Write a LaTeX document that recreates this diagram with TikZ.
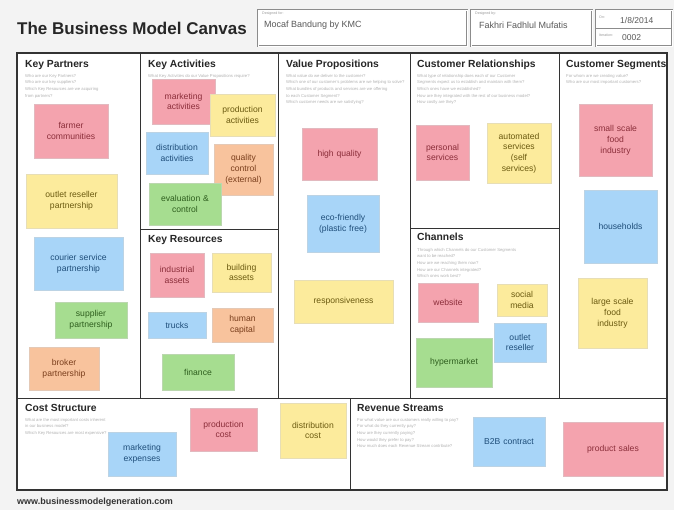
\documentclass[tikz,border=0pt]{standalone}
\usepackage{fontspec}
\setmainfont{Liberation Sans}
\usetikzlibrary{positioning}
\definecolor{pinkc}{HTML}{F4A3AE}
\definecolor{pinkt}{HTML}{8B2E3A}
\definecolor{yellowc}{HTML}{FCEB9C}
\definecolor{yellowt}{HTML}{6B5A10}
\definecolor{bluec}{HTML}{A8D5F8}
\definecolor{bluet}{HTML}{1F4E7A}
\definecolor{greenc}{HTML}{A6DD90}
\definecolor{greent}{HTML}{2E5E1E}
\definecolor{orangec}{HTML}{F8C39D}
\definecolor{oranget}{HTML}{7A3E1C}
\definecolor{framec}{HTML}{333333}
\definecolor{bgc}{HTML}{F3F3F3}
\tikzset{
  sticky/.style={fill=#1c, text=#1t, inner sep=2pt, align=center,
    font=\fontsize{8.6}{10.8}\selectfont, draw=#1c!85!black!60, line width=0.3pt},
  heading/.style={anchor=north west, font=\bfseries\fontsize{10.3}{12}\selectfont, inner sep=0pt, text=black!85},
  prompt/.style={anchor=north west, font=\fontsize{4.2}{6.6}\selectfont, inner sep=0pt, text=black!30, align=left},
  hdrbox/.style={draw=black!45, line width=0.6pt, double=white, double distance=0.8pt},
  hdrlabel/.style={anchor=north west, font=\fontsize{3.6}{4}\selectfont, inner sep=0pt, text=black!40},
  hdrtext/.style={anchor=west, font=\fontsize{9}{10}\selectfont, inner sep=0pt, text=black!65},
  canvasline/.style={draw=framec, line width=1pt},
}
% #1 name, #2 colour, #3 x1, #4 y1, #5 x2, #6 y2, #7 text
\newcommand\stickynote[7]{%
  \node[sticky=#2, text width={(#5-#3)*1pt-4pt}, minimum height={(#6-#4)*1pt}]
    (#1) at ({(#3+#5)/2},{(#4+#6)/2}) {#7};}
\begin{document}
\begin{tikzpicture}[x=1pt,y=-1pt]
\useasboundingbox (0,0) rectangle (674,510);
\fill[bgc] (0,0) rectangle (674,510);
% title
\node[anchor=west, font=\bfseries\fontsize{17}{19}\selectfont, inner sep=0pt, text=black!85] (title) at (17,28) {The Business Model Canvas};
% header boxes
\draw[hdrbox, fill=white] (258,10) rectangle (467,46);
\node[hdrlabel] (lfor) at (262,12) {Designed for:};
\node[hdrtext] (dfor) at (264,25) {Mocaf Bandung by KMC};
\draw[hdrbox, fill=white] (471,10) rectangle (592,46);
\node[hdrlabel] (lby) at (475,12) {Designed by:};
\node[hdrtext] (dby) at (479,25) {Fakhri Fadhlul Mufatis};
\draw[hdrbox, fill=white] (596,10) rectangle (672,46);
\draw[black!45, line width=0.6pt] (596,28) -- (672,28);
\node[hdrlabel] (lon) at (599,16) {On:};
\node[hdrtext, font=\fontsize{8.5}{9}\selectfont] (don) at (620,20) {1/8/2014};
\node[hdrlabel] (lit) at (599,34) {Iteration:};
\node[hdrtext, font=\fontsize{8.5}{9}\selectfont] (dit) at (622,38) {0002};
% canvas
\fill[white] (17,53) rectangle (667,490);
\draw[canvasline, line width=1.6pt] (17,53) rectangle (667,490);
\draw[canvasline] (17,398) -- (667,398);
\draw[canvasline] (140,53) -- (140,398);
\draw[canvasline] (278,53) -- (278,398);
\draw[canvasline] (410,53) -- (410,398);
\draw[canvasline] (559,53) -- (559,398);
\draw[canvasline] (140,230) -- (278,230);
\draw[canvasline] (410,229) -- (559,229);
\draw[canvasline] (350,398) -- (350,490);
% headings
\node[heading] (hkp) at (25,60) {Key Partners};
\node[heading] (hka) at (148,60) {Key Activities};
\node[heading] (hvp) at (286,60) {Value Propositions};
\node[heading] (hcr) at (417,60) {Customer Relationships};
\node[heading] (hcs) at (566,60) {Customer Segments};
\node[heading] (hkr) at (148,235) {Key Resources};
\node[heading] (hch) at (417,233) {Channels};
\node[heading] (hco) at (25,404) {Cost Structure};
\node[heading] (hrs) at (357,404) {Revenue Streams};
% prompts
\node[prompt] (pkp) at (25,74) {Who are our Key Partners?\\Who are our key suppliers?\\Which Key Resources are we acquiring\\from partners?};
\node[prompt] (pka) at (148,74) {What Key Activities do our Value Propositions require?};
\node[prompt] (pvp) at (286,74) {What value do we deliver to the customer?\\Which one of our customer's problems are we helping to solve?\\What bundles of products and services are we offering\\to each Customer Segment?\\Which customer needs are we satisfying?};
\node[prompt] (pcr) at (417,74) {What type of relationship does each of our Customer\\Segments expect us to establish and maintain with them?\\Which ones have we established?\\How are they integrated with the rest of our business model?\\How costly are they?};
\node[prompt] (pcs) at (566,74) {For whom are we creating value?\\Who are our most important customers?};
\node[prompt] (pch) at (417,248) {Through which Channels do our Customer Segments\\want to be reached?\\How are we reaching them now?\\How are our Channels integrated?\\Which ones work best?};
\node[prompt] (pco) at (25,418) {What are the most important costs inherent\\in our business model?\\Which Key Resources are most expensive?};
\node[prompt] (prs) at (357,418) {For what value are our customers really willing to pay?\\For what do they currently pay?\\How are they currently paying?\\How would they prefer to pay?\\How much does each Revenue Stream contribute?};
% Key Partners
\stickynote{kp1}{pink}{34}{104}{108}{158}{farmer\\communities}
\stickynote{kp2}{yellow}{26}{174}{117}{228}{outlet reseller\\partnership}
\stickynote{kp3}{blue}{34}{237}{123}{290}{courier service\\partnership}
\stickynote{kp4}{green}{55}{302}{127}{338}{supplier\\partnership}
\stickynote{kp5}{orange}{29}{347}{99}{390}{broker\\partnership}
% Key Activities
\stickynote{ka1}{pink}{152}{79}{215}{124}{marketing\\activities}
\stickynote{ka2}{yellow}{210}{94}{275}{136}{production\\activities}
\stickynote{ka3}{blue}{146}{132}{208}{174}{distribution\\activities}
\stickynote{ka4}{orange}{214}{144}{273}{195}{quality\\control\\(external)}
\stickynote{ka5}{green}{149}{183}{221}{225}{evaluation \&\\control}
% Key Resources
\stickynote{kr1}{pink}{150}{253}{204}{297}{industrial\\assets}
\stickynote{kr2}{yellow}{212}{253}{271}{292}{building\\assets}
\stickynote{kr3}{blue}{148}{312}{206}{338}{trucks}
\stickynote{kr4}{orange}{212}{308}{273}{342}{human\\capital}
\stickynote{kr5}{green}{162}{354}{234}{390}{finance}
% Value Propositions
\stickynote{vp1}{pink}{302}{128}{377}{180}{high quality}
\stickynote{vp2}{blue}{307}{195}{379}{252}{eco-friendly\\(plastic free)}
\stickynote{vp3}{yellow}{294}{280}{393}{323}{responsiveness}
% Customer Relationships
\stickynote{cr1}{pink}{416}{125}{469}{180}{personal\\services}
\stickynote{cr2}{yellow}{487}{123}{551}{183}{automated\\services\\(self\\services)}
% Channels
\stickynote{ch1}{pink}{418}{283}{478}{322}{website}
\stickynote{ch2}{yellow}{497}{284}{547}{316}{social\\media}
\stickynote{ch3}{blue}{494}{323}{546}{362}{outlet\\reseller}
\stickynote{ch4}{green}{416}{338}{492}{387}{hypermarket}
% Customer Segments
\stickynote{cs1}{pink}{579}{104}{652}{176}{small scale\\food\\industry}
\stickynote{cs2}{blue}{584}{190}{657}{263}{households}
\stickynote{cs3}{yellow}{578}{278}{647}{348}{large scale\\food\\industry}
% Cost Structure
\stickynote{co1}{blue}{108}{432}{176}{476}{marketing\\expenses}
\stickynote{co2}{pink}{190}{408}{257}{451}{production\\cost}
\stickynote{co3}{yellow}{280}{403}{346}{458}{distribution\\cost}
% Revenue Streams
\stickynote{rs1}{blue}{473}{417}{545}{466}{B2B contract}
\stickynote{rs2}{pink}{563}{422}{663}{476}{product sales}
% footer
\node[anchor=west, font=\bfseries\fontsize{9}{10}\selectfont, inner sep=0pt, text=black!80] (footer) at (17,502) {www.businessmodelgeneration.com};
\end{tikzpicture}
\end{document}
